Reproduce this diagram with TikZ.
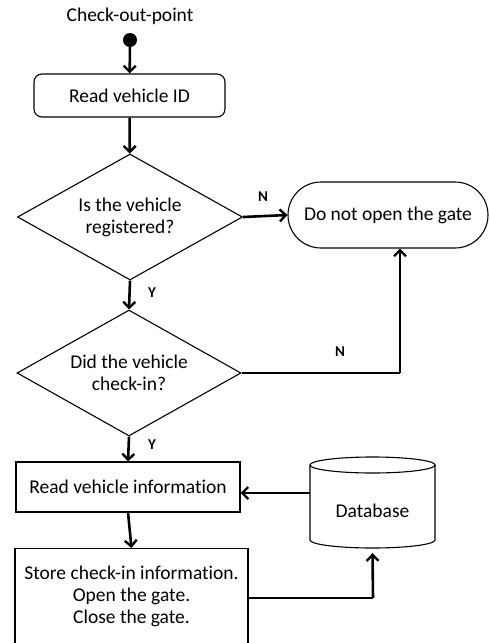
\documentclass[tikz,border=0pt]{standalone}
\usepackage{fontspec}
\setmainfont{Carlito}[Ligatures=NoCommon]
\usetikzlibrary{arrows.meta,shapes.geometric,shapes.misc}
\begin{document}
\begin{tikzpicture}[x=1pt,y=-1pt,
  base/.style={draw=black, line width=1.1pt, font=\fontsize{19.5}{22}\selectfont, align=center, inner sep=1pt},
  procbox/.style={base, rectangle},
  decision/.style={base, diamond, aspect=1.786, inner sep=0pt},
  conn/.style={line width=2.6pt, -{Straight Barb[length=6pt,width=12pt,line width=2.4pt]}},
  plain/.style={line width=2.6pt},
  outline/.style={line width=1.1pt},
  lbl/.style={font=\fontsize{15}{17}\selectfont\bfseries}]
\useasboundingbox (0,0) rectangle (490,643);
\node[font=\fontsize{19.5}{22}\selectfont] (title) at (130,16) {Check-out-point};
\node[circle, fill=black, minimum size=14pt, inner sep=0pt] (start) at (130,40) {};
\node[procbox, rounded corners=8pt, minimum width=191pt, minimum height=43pt] (rvid) at (129.5,95.5) {Read vehicle ID};
\node[decision, minimum width=225pt, minimum height=126pt] (d1) at (130,217) {Is the vehicle\\registered?};
\node[base, rounded rectangle, minimum width=202pt, minimum height=66pt] (stop) at (388,215) {Do not open the gate};
\node[decision, minimum width=224pt, minimum height=126pt] (d2) at (129,373) {Did the vehicle\\check-in?};
\node[procbox, minimum width=224pt, minimum height=50pt] (rvi) at (128,487) {Read vehicle information};
\node[procbox, minimum width=233pt, minimum height=95pt] (store) at (131.5,596) {Store check-in information.\\Open the gate.\\Close the gate.};
% database cylinder
\node[rectangle, minimum width=125pt, minimum height=91pt, inner sep=0pt] (db) at (372.5,502.5) {};
\draw[outline] (310,465) -- (310,540) arc[start angle=180, end angle=360, x radius=62.5pt, y radius=8pt] -- (435,465);
\draw[outline] (372.5,465) ellipse [x radius=62.5pt, y radius=8pt];
\node[font=\fontsize{19.5}{22}\selectfont] (dbl) at (372.5,511) {Database};
\coordinate (c1) at (400,373);
\coordinate (c2) at (373,598);
\draw[conn] (start) -- (rvid);
\draw[conn] (rvid) -- (d1);
\draw[conn] (d1.east) -- (stop.west);
\draw[conn] (d1.south) -- (d2.north);
\draw[plain] (d2.east) -- (c1);
\draw[conn] (c1) -- (c1 |- stop.south);
\draw[conn] (d2.south) -- (rvi.north);
\draw[conn] (db.west |- 0,493) -- (rvi.east |- 0,493);
\draw[conn] (rvi.south) -- (store.north);
\draw[plain] (store.east |- c2) -- (c2);
\draw[conn] (c2) -- ([yshift=-5pt]db.south);
\node[lbl] (n1) at (263,197) {N};
\node[lbl] (n2) at (340,352) {N};
\node[lbl] (y1) at (152,293) {Y};
\node[lbl] (y2) at (152,445) {Y};
\end{tikzpicture}
\end{document}
